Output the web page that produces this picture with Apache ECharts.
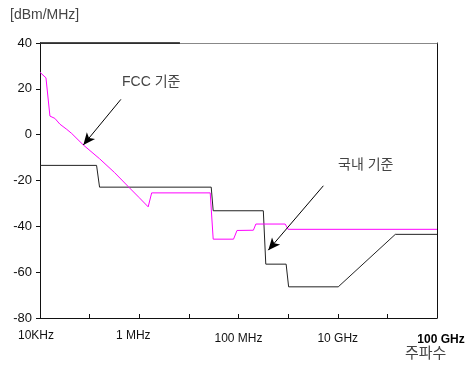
<!DOCTYPE html>
<html><head><meta charset="utf-8">
<script src="https://cdn.jsdelivr.net/npm/echarts@6/dist/echarts.min.js"></script>
<style>html,body{margin:0;padding:0;background:#fff}#c{width:474px;height:371px}</style>
</head><body><div id="c"></div>
<script>
// x in decades from 10 kHz (tick index), y in dBm/MHz
const xTickLabels = {0:'10KHz', 2:'1 MHz', 4:'100 MHz', 6:'10 GHz', 8:'100 GHz'};
const fccLimit = [[0,27.2],[0.12,24.8],[0.2,8.1],[0.3,7.1],[0.4,4.6],[0.54,2.3],[0.64,0.5],[0.873,-4.5],[1.2,-10.5],[1.5,-16.5],[1.78,-22.7],[2.0,-27.5],[2.18,-31.5],[2.25,-25.4],[3.43,-25.4],[3.49,-45.6],[3.9,-45.6],[3.97,-41.8],[4.3,-41.7],[4.35,-39],[4.94,-39],[5.0,-41.3],[8,-41.3]];
const koreaLimit = [[0,-13.4],[1.14,-13.4],[1.2,-22.9],[3.45,-22.9],[3.49,-33.2],[4.5,-33.2],[4.55,-56.5],[4.96,-56.5],[5.01,-66.4],[6.01,-66.4],[7.16,-43.5],[8,-43.5]];
const fccArrow = [[1.63,15.4],[0.873,-4.5]];
const koreaArrow = [[5.71,-22.3],[4.6,-50.4]];
const topDarkSeg = [[0,40],[2.82,40]];

const font = "'Liberation Sans', Arial, 'Noto Sans CJK KR', sans-serif";
const chart = echarts.init(document.getElementById('c'));
chart.setOption({
  animation:false,
  grid:{left:40,right:37,top:43,bottom:53},
  xAxis:[{
    type:'value',min:0,max:8,interval:1,
    axisLine:{onZero:false,lineStyle:{color:'#111',width:1}},
    axisTick:{inside:true,length:4,lineStyle:{color:'#111'}},
    splitLine:{show:false},
    axisLabel:{
      margin:12,color:'#111',fontSize:12,fontFamily:font,showMinLabel:true,showMaxLabel:true,
      formatter:v=>{const t=xTickLabels[v]; if(!t) return '';
        if(v===8) return '{b|'+t+'}';
        if(v===2) return '{m|'+t+'}';
        if(v===0) return '{k|'+t+'}';
        return '{n|'+t+'}';},
      rich:{
        b:{fontWeight:'bold',fontSize:12,fontFamily:font,color:'#000',padding:[4,0,0,8]},
        m:{fontSize:12,fontFamily:font,color:'#111',padding:[0,12,0,0]},
        k:{fontSize:12,fontFamily:font,color:'#111',padding:[0,8,0,0]},
        n:{fontSize:12,fontFamily:font,color:'#111',padding:[3,0,0,0]}
      }
    }
  },{
    type:'value',min:0,max:8,position:'top',
    axisLine:{show:true,onZero:false,lineStyle:{color:'#888',width:1}},
    axisTick:{show:false},axisLabel:{show:false},splitLine:{show:false}
  }],
  yAxis:[{
    type:'value',min:-80,max:40,interval:20,
    axisLine:{show:true,onZero:false,lineStyle:{color:'#111'}},
    axisTick:{show:true,length:4,lineStyle:{color:'#111'}},
    splitLine:{show:false},
    axisLabel:{margin:8,color:'#111',fontSize:13,fontFamily:font}
  },{
    type:'value',min:-80,max:40,position:'right',
    axisLine:{show:true,onZero:false,lineStyle:{color:'#111'}},
    axisTick:{show:false},axisLabel:{show:false},splitLine:{show:false}
  }],
  series:[
    {type:'line',data:fccLimit,symbol:'none',lineStyle:{color:'#ff00ff',width:1},z:3},
    {type:'line',data:koreaLimit,symbol:'none',lineStyle:{color:'#222',width:1},z:2},
    {type:'line',data:topDarkSeg,symbol:'none',clip:false,lineStyle:{color:'#111',width:1.5},z:4},
    {type:'line',data:[],symbol:'none',
     markLine:{silent:true,symbol:['none','arrow'],symbolSize:[8,12],label:{show:false},
       lineStyle:{color:'#000',width:1,type:'solid'},
       data:[[{coord:fccArrow[0]},{coord:fccArrow[1]}],[{coord:koreaArrow[0]},{coord:koreaArrow[1]}]]}}
  ],
  graphic:[
    {type:'text',left:10,top:8,style:{text:'[dBm/MHz]',font:'14px '+font,fill:'#444'}},
    {type:'text',left:122,top:75,style:{text:'FCC 기준',font:'14px '+font,fill:'#444'}},
    {type:'text',left:338,top:158,style:{text:'국내 기준',font:'14px '+font,fill:'#444'}},
    {type:'text',left:405,top:346,style:{text:'주파수',font:'15px '+font,fill:'#444'}}
  ]
});
</script></body></html>
